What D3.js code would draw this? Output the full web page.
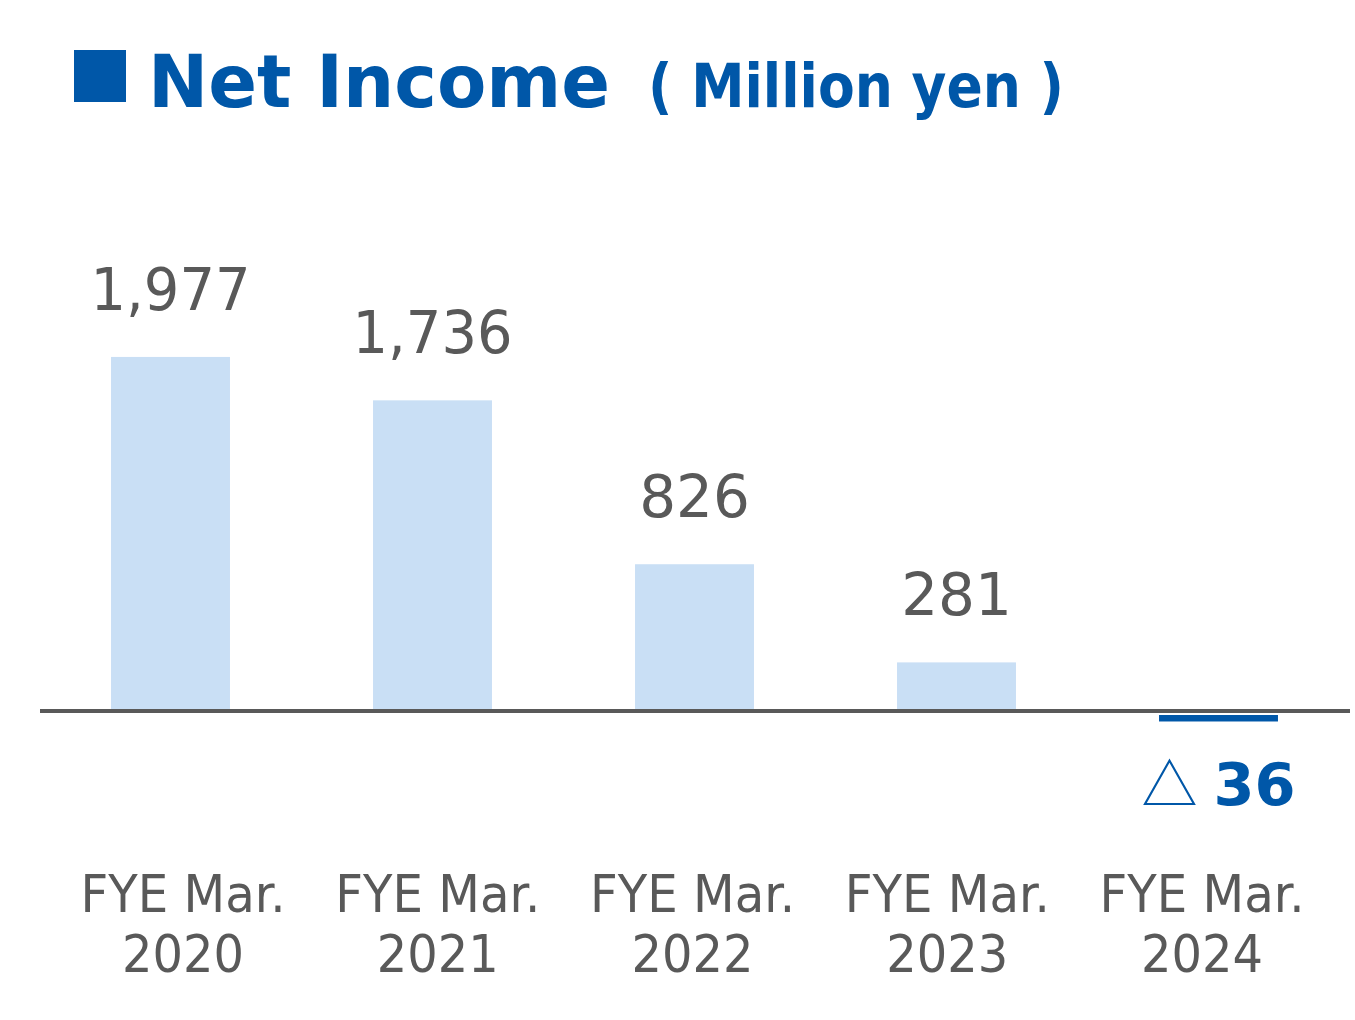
<!DOCTYPE html>
<html><head><meta charset="utf-8">
<script src="https://cdn.jsdelivr.net/npm/d3@7"></script>
<style>html,body{margin:0;padding:0;background:#fff;}svg{display:block;}</style>
</head><body>
<script>
const categories = ["FYE Mar. 2020","FYE Mar. 2021","FYE Mar. 2022","FYE Mar. 2023","FYE Mar. 2024"];
const labelLine1 = ["FYE Mar.","FYE Mar.","FYE Mar.","FYE Mar.","FYE Mar."];
const labelLine2 = ["2020","2021","2022","2023","2024"];
const netIncome = [1977, 1736, 826, 281, -36];
const valueLabels = ["1,977","1,736","826","281","36"];
const titleMain = "Net Income";
const titleUnit = "( Million yen )";

const W = 1355, H = 1020;
const BLUE = "#0057A8", LIGHT = "#C9DFF5", GRAY = "#595959";
const svg = d3.select("body").append("svg").attr("width", W).attr("height", H);

// title
svg.append("rect").attr("x",74).attr("y",50).attr("width",52).attr("height",52).attr("fill",BLUE);
svg.append("text").attr("x",148).attr("y",107).attr("font-family","'DejaVu Sans',Verdana,sans-serif")
  .attr("font-weight","bold").attr("font-size",73).attr("fill",BLUE)
  .attr("textLength",462).attr("lengthAdjust","spacingAndGlyphs").text(titleMain);
svg.append("text").attr("x",648).attr("y",107).attr("font-family","'DejaVu Sans',Verdana,sans-serif")
  .attr("font-weight","bold").attr("font-size",61).attr("fill",BLUE)
  .attr("textLength",416).attr("lengthAdjust","spacingAndGlyphs").text(titleUnit);

const x = d3.scaleBand().domain(categories).range([39.5, 1349.5]).paddingInner(0.546).paddingOuter(0.273);
const y = d3.scaleLinear().domain([0, 2000]).range([713, 713 - 360.2]);
const xl = d3.scalePoint().domain(categories).range([183, 1202]);

// bars
svg.append("g").selectAll("rect").data(netIncome).join("rect")
  .attr("x",(d,i)=>x(categories[i]))
  .attr("width",x.bandwidth())
  .attr("y",d=>d>=0?y(d):y(0)+2)
  .attr("height",d=>Math.abs(y(d)-y(0)))
  .attr("fill",d=>d>=0?LIGHT:BLUE);

// axis line
svg.append("line").attr("x1",40).attr("x2",1350).attr("y1",711).attr("y2",711)
  .attr("stroke",GRAY).attr("stroke-width",4);

// value labels
const vl = svg.append("g").attr("font-family","'DejaVu Sans',Verdana,sans-serif").attr("text-anchor","middle");
netIncome.forEach((d,i)=>{
  const cx = x(categories[i]) + x.bandwidth()/2;
  if (d >= 0) {
    vl.append("text").attr("x",cx).attr("y",y(d)-47).attr("font-size",58).attr("fill",GRAY)
      .attr("textLength",valueLabels[i].length>3?160:null)
      .attr("lengthAdjust","spacingAndGlyphs")
      .text(valueLabels[i]);
  } else {
    const t = vl.append("text").attr("x",cx).attr("y",805).attr("fill",BLUE);
    t.append("tspan").attr("font-family","'Noto Sans CJK JP',sans-serif").attr("font-size",56).text("△");
    t.append("tspan").attr("font-size",59).attr("font-weight","bold").attr("dx",16).text(valueLabels[i]);
  }
});

// category labels
const cl = svg.append("g").attr("font-family","'DejaVu Sans',Verdana,sans-serif").attr("text-anchor","middle")
  .attr("font-size",52).attr("fill",GRAY);
categories.forEach((c,i)=>{
  cl.append("text").attr("x",xl(c)).attr("y",912).attr("textLength",205).attr("lengthAdjust","spacingAndGlyphs").text(labelLine1[i]);
  cl.append("text").attr("x",xl(c)).attr("y",972).attr("textLength",122).attr("lengthAdjust","spacingAndGlyphs").text(labelLine2[i]);
});
</script>
</body></html>
